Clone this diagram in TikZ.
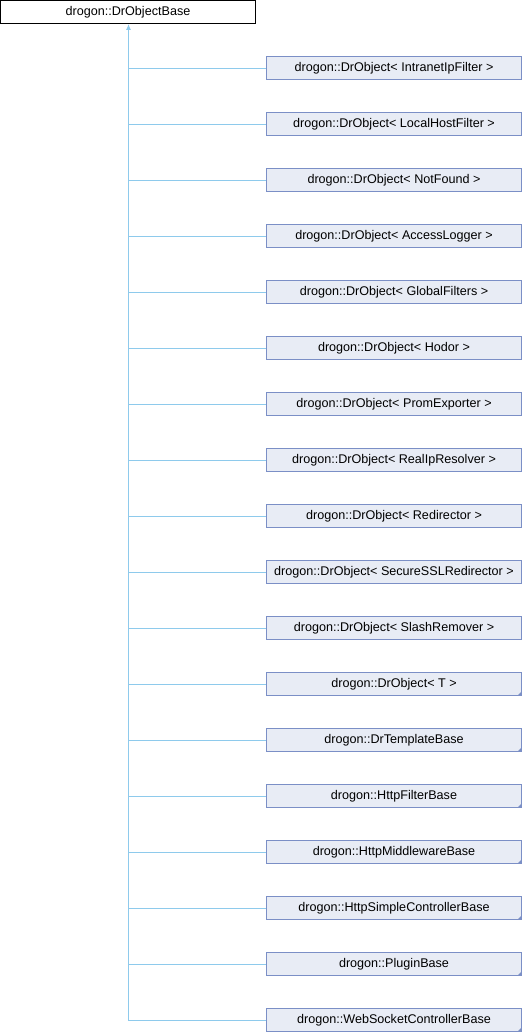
\documentclass[tikz,border=0pt]{standalone}
\usepackage{fontspec}
\setmainfont{Liberation Sans}
\usetikzlibrary{%
  arrows.meta,%
  calc%
}
\definecolor{edgeblue}{HTML}{8ECAEC}
\definecolor{boxfill}{HTML}{E8ECF5}
\definecolor{boxline}{HTML}{7B8FC6}
\tikzset{>=latex}
\tikzset{baseclass/.style = {draw=black, fill=white, line width=1pt,
      minimum width=255pt, minimum height=23pt, inner sep=0pt,
      font=\fontsize{12.6}{14}\selectfont},%
    derived/.style = {baseclass, draw=boxline, fill=boxfill},%
    inherit/.style = {draw=edgeblue, line width=1pt}}

\begin{document}
\begin{tikzpicture}[x=1pt,y=-1pt]
    \useasboundingbox (0,0) rectangle (522,1032);
    \node[baseclass] (base) at (128,12) {drogon::DrObjectBase};
    \foreach \lbl [count=\i from 0] in {%
        {drogon::DrObject< IntranetIpFilter >},%
        {drogon::DrObject< LocalHostFilter >},%
        {drogon::DrObject< NotFound >},%
        {drogon::DrObject< AccessLogger >},%
        {drogon::DrObject< GlobalFilters >},%
        {drogon::DrObject< Hodor >},%
        {drogon::DrObject< PromExporter >},%
        {drogon::DrObject< RealIpResolver >},%
        {drogon::DrObject< Redirector >},%
        {drogon::DrObject< SecureSSLRedirector >},%
        {drogon::DrObject< SlashRemover >},%
        {drogon::DrObject< T >},%
        {drogon::DrTemplateBase},%
        {drogon::HttpFilterBase},%
        {drogon::HttpMiddlewareBase},%
        {drogon::HttpSimpleControllerBase},%
        {drogon::PluginBase},%
        {drogon::WebSocketControllerBase}}
      \node[derived] (d\i) at (394,68+56*\i) {\lbl};
    % trunk up to the base class
    \coordinate (trunk) at (128.5,1020.5);
    \coordinate (tip) at (128.5,24);
    \draw[inherit,-{Latex[length=6pt,width=5pt]}] (trunk) -- (tip);
    \foreach \i in {0,...,17}{
      \coordinate (j\i) at ($(d\i.west)+(0,0.5)$);
      \draw[inherit] (j\i) -- (j\i -| trunk);
    }
    % marks for classes with more children
    \foreach \i in {11,...,17}
      \fill[boxline] ($(d\i.south east)+(-0.5,-0.5)$) -- ++(-4,0) -- ++(4,-4) -- cycle;
  \end{tikzpicture}
\end{document}
